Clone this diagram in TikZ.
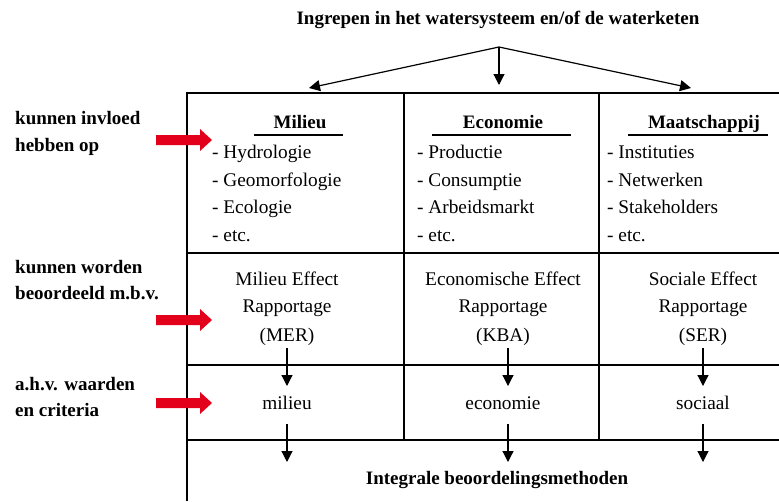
\documentclass[tikz,border=0pt]{standalone}
\usepackage{fontspec}
\setmainfont{Liberation Serif}
\usetikzlibrary{arrows.meta}
\definecolor{arrowred}{HTML}{E2001A}
\begin{document}
\begin{tikzpicture}[x=1pt,y=-1pt,
  txt/.style={inner sep=0pt, anchor=base, font=\fontsize{19.3}{22}\selectfont},
  btxt/.style={inner sep=0pt, anchor=base, font=\fontsize{19}{22}\selectfont\bfseries},
  item/.style={txt, anchor=base west},
  lbl/.style={btxt, anchor=base west},
  gridline/.style={line width=1.4pt},
  uline/.style={line width=1.3pt},
  flow/.style={line width=1.2pt, -{Triangle[length=11pt,width=11pt]}},
  redarrow/.pic={\fill[arrowred] (0,-5) -- (44,-5) -- (44,-11) -- (56,0) -- (44,11) -- (44,5) -- (0,5) -- cycle;}
]
\useasboundingbox (0,0) rectangle (779,501);

% title and top arrows
\node[btxt] (title) at (498,24) {Ingrepen in het watersysteem en/of de waterketen};
\coordinate (apex) at (499,47);
\coordinate (tl) at (309,88);
\coordinate (tm) at (499,85);
\coordinate (tr) at (691,88);
\draw[flow] (apex) -- (tl);
\draw[flow] (apex) -- (tm);
\draw[flow] (apex) -- (tr);

% table grid
\draw[gridline] (187,501) -- (187,93) -- (779,93);
\draw[gridline] (187,253) -- (779,253);
\draw[gridline] (187,365) -- (779,365);
\draw[gridline] (187,440) -- (779,440);
\draw[gridline] (404,93) -- (404,440);
\draw[gridline] (599,93) -- (599,440);

% headers
\node[btxt] (h1) at (300,128) {Milieu};
\node[btxt] (h2) at (503,128) {Economie};
\node[btxt] (h3) at (704,128) {Maatschappij};
\draw[uline] (254,135) -- (343,135);
\draw[uline] (432,135) -- (571,135);
\draw[uline] (628,135) -- (768,135);

% lists
\node[item] (a1) at (212,158) {- Hydrologie};
\node[item] (a2) at (212,186) {- Geomorfologie};
\node[item] (a3) at (212,213.5) {- Ecologie};
\node[item] (a4) at (212,241) {- etc.};
\node[item] (b1) at (417,158) {- Productie};
\node[item] (b2) at (417,186) {- Consumptie};
\node[item] (b3) at (417,213.5) {- Arbeidsmarkt};
\node[item] (b4) at (417,241) {- etc.};
\node[item] (c1) at (607,158) {- Instituties};
\node[item] (c2) at (607,186) {- Netwerken};
\node[item] (c3) at (607,213.5) {- Stakeholders};
\node[item] (c4) at (607,241) {- etc.};

% row 2
\node[txt] (m1) at (287,285) {Milieu Effect};
\node[txt] (m2) at (287,312) {Rapportage};
\node[txt] (m3) at (287,341) {(MER)};
\node[txt] (e1) at (503,285) {Economische Effect};
\node[txt] (e2) at (503,312) {Rapportage};
\node[txt] (e3) at (503,341) {(KBA)};
\node[txt] (s1) at (703,285) {Sociale Effect};
\node[txt] (s2) at (703,312) {Rapportage};
\node[txt] (s3) at (703,341) {(SER)};

% row 3
\node[txt] (v1) at (287,409) {milieu};
\node[txt] (v2) at (503,409) {economie};
\node[txt] (v3) at (703,409) {sociaal};

% bottom
\node[btxt] (ib) at (497,484) {Integrale beoordelingsmethoden};

% vertical arrows
\coordinate (p1a) at (287,348); \coordinate (p1b) at (287,386);
\coordinate (p2a) at (508,348); \coordinate (p2b) at (508,386);
\coordinate (p3a) at (703,348); \coordinate (p3b) at (703,386);
\coordinate (q1a) at (287,424); \coordinate (q1b) at (287,462);
\coordinate (q2a) at (508,424); \coordinate (q2b) at (508,462);
\coordinate (q3a) at (703,424); \coordinate (q3b) at (703,462);
\draw[flow] (p1a) -- (p1b);
\draw[flow] (p2a) -- (p2b);
\draw[flow] (p3a) -- (p3b);
\draw[flow] (q1a) -- (q1b);
\draw[flow] (q2a) -- (q2b);
\draw[flow] (q3a) -- (q3b);

% left labels
\node[lbl] (l1a) at (15,124) {kunnen invloed};
\node[lbl] (l1b) at (15,151) {hebben op};
\node[lbl] (l2a) at (15,273) {kunnen worden};
\node[lbl] (l2b) at (15,299) {beoordeeld m.b.v.};
\node[lbl] (l3a) at (15,390) {a.h.v. waarden};
\node[lbl] (l3b) at (15,416) {en criteria};

% red arrows
\pic at (156,140) {redarrow};
\pic at (156,320) {redarrow};
\pic at (156,403) {redarrow};
\end{tikzpicture}
\end{document}
